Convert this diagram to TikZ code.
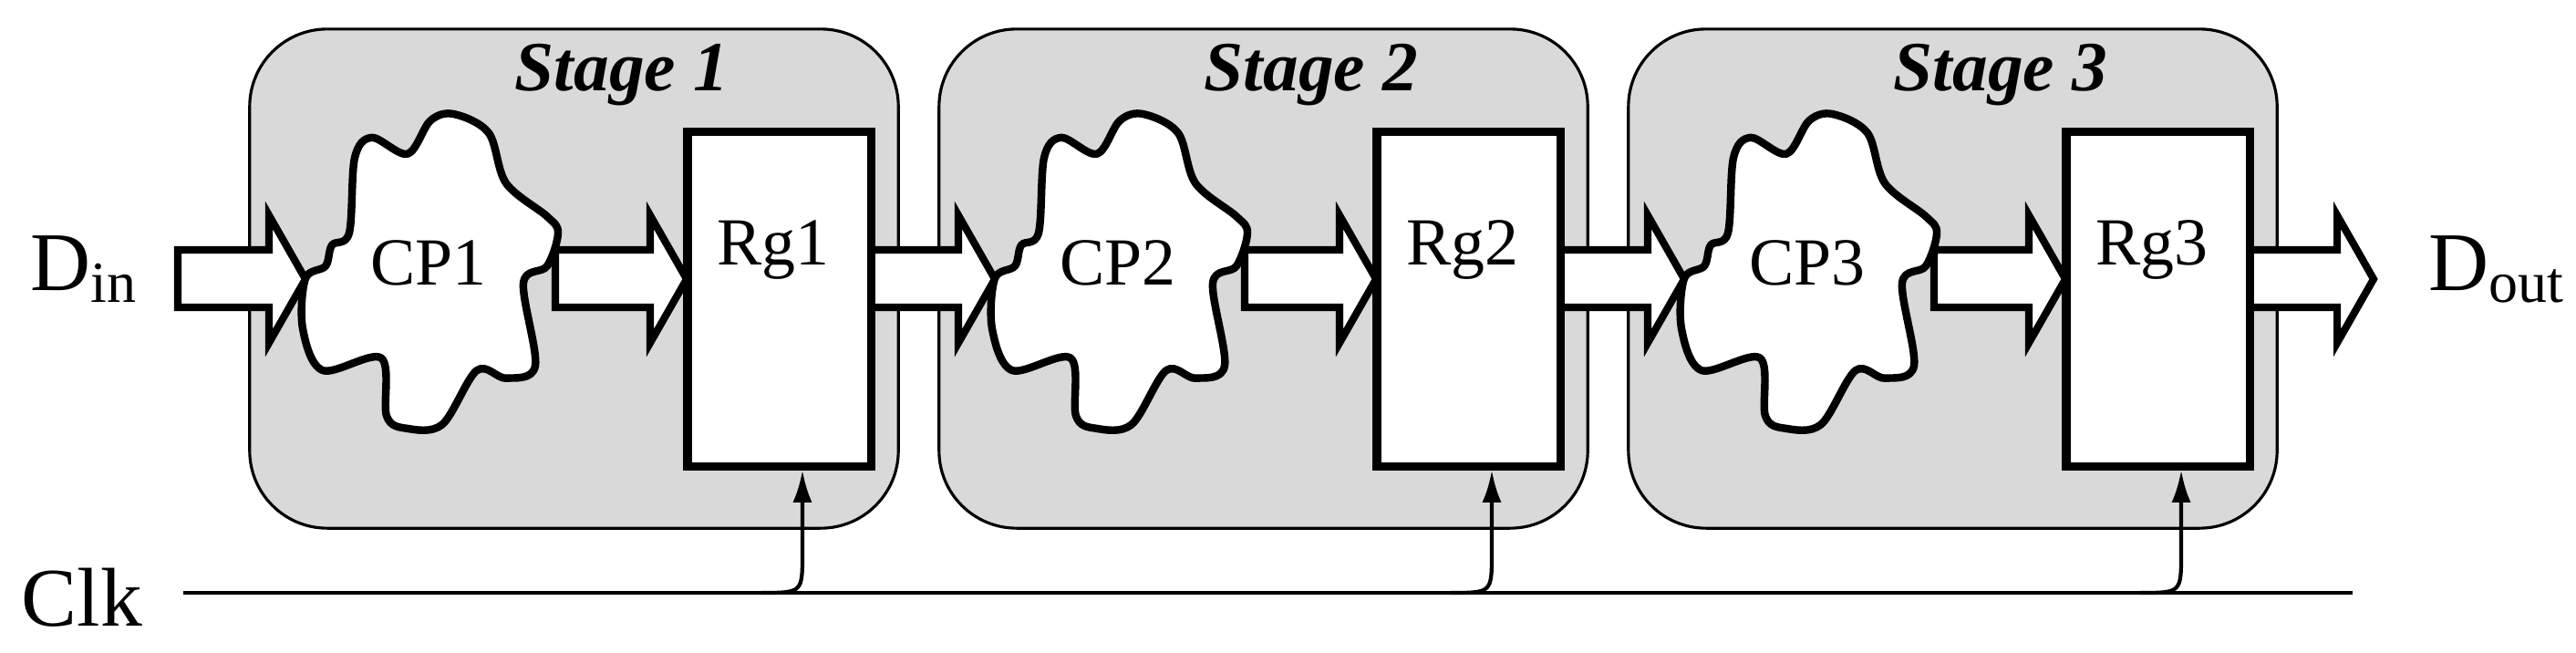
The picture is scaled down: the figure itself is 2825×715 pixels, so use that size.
\documentclass[tikz,border=0pt]{standalone}
\usepackage{fontspec}
\setmainfont{Liberation Serif}
\usetikzlibrary{arrows.meta}
\begin{document}
\begin{tikzpicture}[x=0.01cm,y=-0.01cm,
  stage/.style={draw=black,line width=0.9pt,fill=black!15,rounded corners=0.85cm,minimum width=7.11cm,minimum height=5.47cm,inner sep=0pt},
  reg/.style={draw=black,line width=2.6pt,fill=white,minimum width=2.01cm,minimum height=3.66cm,inner sep=0pt},
  barrow/.style={draw=black,line width=2.3pt,fill=white,line join=miter},
  cloud/.style={draw=black,line width=2.4pt,fill=white,line join=round},
  big/.style={font=\fontsize{26}{30}\selectfont},
  mid/.style={font=\fontsize{21}{25}\selectfont},
  ttl/.style={font=\fontsize{22}{26}\selectfont\bfseries\itshape},
  clk/.style={line width=1.2pt}]
\useasboundingbox (0,0) rectangle (2825,715);
\newcommand\barrow[2]{\pgfmathtruncatemacro\bbase{#2-40}\draw[barrow] (#1,274) -- (\bbase,274) -- (\bbase,236) -- (#2,306) -- (\bbase,376) -- (\bbase,337) -- (#1,337) -- cycle;}
\newcommand\cloudshape[1]{\draw[cloud,shift={(#1,301)},yscale=0.715] plot[smooth cycle,tension=0.55] coordinates {(-25,-185) (-64,-210) (-83,-179) (-89,-64) (-108,-45) (-115,-13) (-137,6) (-140,83) (-118,147) (-54,128) (-48,217) (-26,236) (13,230) (51,147) (83,159) (115,140) (102,13) (128,-13) (140,-64) (128,-89) (83,-140) (64,-217) (26,-246) (0,-236)};}
\foreach \k/\d in {1/0,2/756,3/1512}{
  \node[stage] (s\k) at ({629.5+\d},305.5) {};
  \node[ttl] (t\k) at ({682+\d},82) {Stage \k};
}
\node[big] (din) at (92,295) {D\textsubscript{in}};
\node[big] (dout) at (2738,295) {D\textsubscript{out}};
\node[big] (clk) at (90,655) {Clk};
\barrow{195}{335}
\barrow{955}{1091}
\barrow{1711}{1847}
\barrow{2467}{2603}
\foreach \k/\d in {1/0,2/756,3/1512}{
  \pgfmathtruncatemacro\aa{609+\d}
  \pgfmathtruncatemacro\bb{753+\d}
  \pgfmathtruncatemacro\cc{472+\d}
  \barrow{\aa}{\bb}
  \cloudshape{\cc}
  \node[mid] (cp\k) at ({470+\d},288) {CP\k};
  \node[reg] (rg\k) at ({854.5+\d},328) {};
  \node[mid] (rl\k) at ({848+\d},274) {Rg\k};
}
\coordinate (c0) at (201,650);
\coordinate (c1) at (2580,650);
\draw[clk] (c0) -- (c1);
\foreach \k/\d in {1/0,2/756,3/1512}{
  \coordinate (ca\k) at ({835+\d},650);
  \coordinate (cb\k) at ({880+\d},650);
  \coordinate (cc\k) at ({880+\d},606);
  \draw[clk,-{Latex[length=10pt,width=6pt]}] (ca\k) .. controls (cb\k) .. (cc\k) -- (rg\k.south -| cb\k);
}
\end{tikzpicture}
\end{document}
